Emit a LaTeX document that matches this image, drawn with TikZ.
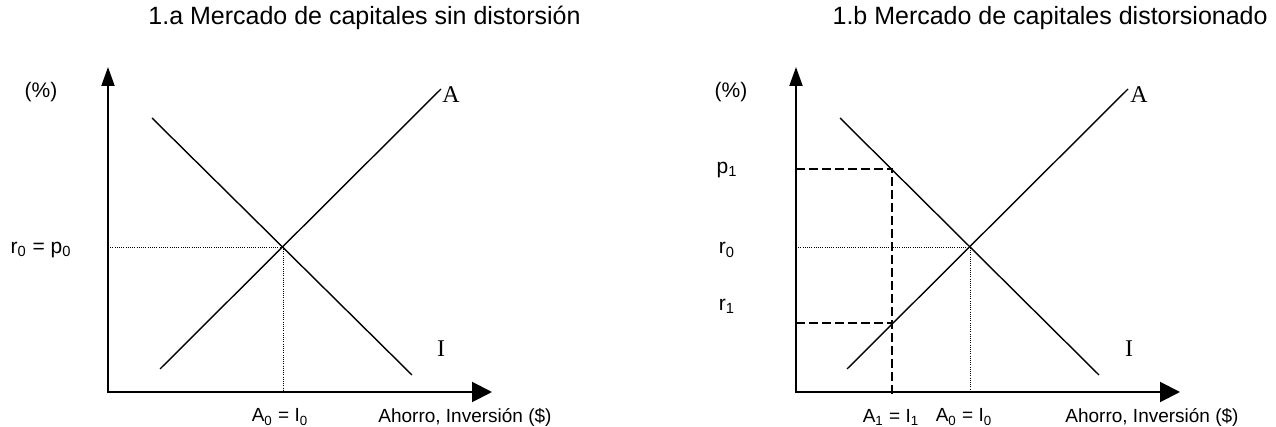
\documentclass[tikz,border=0pt]{standalone}
\usepackage{fontspec}
\setmainfont{Liberation Sans}
\newfontfamily\curvefont{Liberation Serif}
\usetikzlibrary{arrows.meta}

\tikzset{
  axis/.style={line width=1pt},
  curve/.style={line width=0.7pt},
  guide/.style={line width=0.5pt, dash pattern=on 0.5pt off 0.6pt},
  cut/.style={line width=0.8pt, dash pattern=on 4.5pt off 2pt},
  lbl/.style={font=\fontsize{9.5}{11}\selectfont, inner sep=0pt},
  big/.style={font=\fontsize{10.5}{12}\selectfont, inner sep=0pt},
  ttl/.style={font=\fontsize{12.5}{15}\selectfont, inner sep=0pt},
  crv/.style={font=\curvefont\fontsize{12}{14}\selectfont, inner sep=0pt}
}

\begin{document}
\begin{tikzpicture}[x=0.5pt,y=-0.5pt]
  \useasboundingbox (0,0) rectangle (1276,427);

  % 1.a sin distorsion
  \coordinate (Oa) at (108,392);
  \coordinate (Ya) at (108,67);
  \coordinate (Xa) at (492,392);
  \coordinate (Ia1) at (152,118);
  \coordinate (Ia2) at (412,375);
  \coordinate (Aa1) at (160,369);
  \coordinate (Aa2) at (441,89);
  \coordinate (Ea) at (283,248);
  \draw[axis,{Triangle[length=9.5pt,width=6.5pt]}-{Triangle[length=10pt,width=10pt]}] (Ya) |- (Xa);
  \draw[curve] (Ia1) -- (Ia2);
  \draw[curve] (Aa1) -- (Aa2);
  \draw[guide] (Oa |- Ea) -- (Ea) -- (Ea |- Oa);
  \node[ttl,anchor=west] (ta) at (148,18) {1.a Mercado de capitales sin distorsión};
  \node[big] (pa) at (41,92) {(\%)};
  \node[big] (ra) at (41,250) {r\textsubscript{0} = p\textsubscript{0}};
  \node[lbl] (qa) at (280,417) {A\textsubscript{0} = I\textsubscript{0}};
  \node[lbl,anchor=west] (ha) at (378,417) {Ahorro, Inversión (\$)};
  \node[crv] (la) at (451,95) {A};
  \node[crv] (ia) at (441,349) {I};

  % 1.b distorsionado
  \coordinate (Ob) at (796,392);
  \coordinate (Yb) at (796,67);
  \coordinate (Xb) at (1180,392);
  \coordinate (Ib1) at (840,118);
  \coordinate (Ib2) at (1099,375);
  \coordinate (Ab1) at (847,369);
  \coordinate (Ab2) at (1128,89);
  \coordinate (Eb) at (970,248);
  \coordinate (Pb) at (892,169);
  \coordinate (Rb) at (892,323);
  \coordinate (Db) at (892,398);
  \draw[axis,{Triangle[length=9.5pt,width=6.5pt]}-{Triangle[length=10pt,width=10pt]}] (Yb) |- (Xb);
  \draw[curve] (Ib1) -- (Ib2);
  \draw[curve] (Ab1) -- (Ab2);
  \draw[guide] (Ob |- Eb) -- (Eb) -- (Eb |- Ob);
  \draw[cut] (Ob |- Pb) -- (Pb) -- (Db);
  \draw[cut] (Ob |- Rb) -- (Rb);
  \node[ttl,anchor=east] (tb) at (1268,18) {1.b Mercado de capitales distorsionado};
  \node[big] (pb) at (731,92) {(\%)};
  \node[big] (p1) at (727,170) {p\textsubscript{1}};
  \node[big] (r0) at (727,250) {r\textsubscript{0}};
  \node[big] (r1) at (727,306) {r\textsubscript{1}};
  \node[lbl] (q1) at (891,417) {A\textsubscript{1} = I\textsubscript{1}};
  \node[lbl] (q0) at (964,417) {A\textsubscript{0} = I\textsubscript{0}};
  \node[lbl,anchor=west] (hb) at (1065,417) {Ahorro, Inversión (\$)};
  \node[crv] (lb) at (1139,95) {A};
  \node[crv] (ib) at (1129,349) {I};
\end{tikzpicture}
\end{document}
